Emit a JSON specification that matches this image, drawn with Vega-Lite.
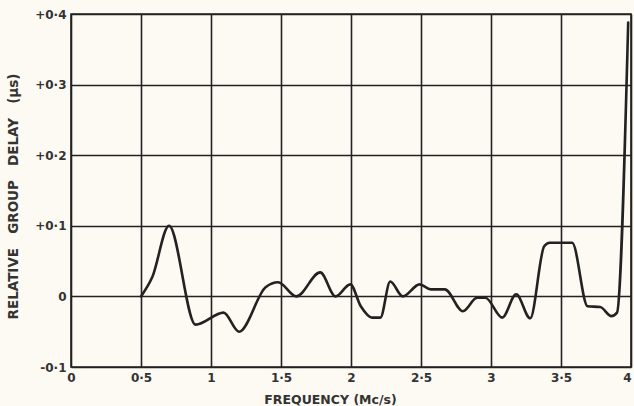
{
  "$schema": "https://vega.github.io/schema/vega-lite/v6.json",
  "width": 560,
  "height": 353,
  "autosize": {"type": "none"},
  "padding": {"left": 71, "top": 14, "right": 3, "bottom": 39},
  "background": "#fcfaf2",
  "config": {
    "view": {"stroke": "#222", "strokeWidth": 1.6},
    "font": "DejaVu Sans"
  },
  "data": {
    "values": [
      {"f": 0.5, "d": 0.0},
      {"f": 0.58, "d": 0.027},
      {"f": 0.70, "d": 0.100},
      {"f": 0.89, "d": -0.040},
      {"f": 1.09, "d": -0.023},
      {"f": 1.20, "d": -0.050},
      {"f": 1.39, "d": 0.013},
      {"f": 1.48, "d": 0.020},
      {"f": 1.61, "d": 0.0},
      {"f": 1.78, "d": 0.034},
      {"f": 1.89, "d": 0.0},
      {"f": 1.995, "d": 0.017},
      {"f": 2.07, "d": -0.014},
      {"f": 2.15, "d": -0.030},
      {"f": 2.21, "d": -0.030},
      {"f": 2.28, "d": 0.021},
      {"f": 2.37, "d": 0.0},
      {"f": 2.49, "d": 0.017},
      {"f": 2.57, "d": 0.010},
      {"f": 2.67, "d": 0.010},
      {"f": 2.80, "d": -0.021},
      {"f": 2.90, "d": -0.002},
      {"f": 2.96, "d": -0.002},
      {"f": 3.08, "d": -0.030},
      {"f": 3.18, "d": 0.003},
      {"f": 3.28, "d": -0.031},
      {"f": 3.38, "d": 0.071},
      {"f": 3.42, "d": 0.076},
      {"f": 3.58, "d": 0.076},
      {"f": 3.69, "d": -0.014},
      {"f": 3.78, "d": -0.015},
      {"f": 3.86, "d": -0.028},
      {"f": 3.90, "d": -0.023},
      {"f": 3.98, "d": 0.388}
    ]
  },
  "mark": {"type": "line", "color": "#222", "strokeWidth": 2.6, "strokeJoin": "round", "strokeCap": "round", "interpolate": "monotone", "clip": false},
  "encoding": {
    "x": {
      "field": "f",
      "type": "quantitative",
      "scale": {"domain": [0, 4], "nice": false, "zero": false},
      "axis": {
        "values": [0, 0.5, 1, 1.5, 2, 2.5, 3, 3.5, 4],
        "title": "FREQUENCY (Mc/s)",
        "titleFont": "DejaVu Sans",
        "titleFontSize": 12.5,
        "titleFontWeight": "bold",
        "titleColor": "#333",
        "titleX": 259,
        "titleY": 36,
        "titleAnchor": null,
        "titleAlign": "center",
        "titleBaseline": "alphabetic",
        "labelExpr": "datum.value == floor(datum.value) ? format(datum.value, 'd') : replace(format(datum.value, '.1f'), '.', '·')",
        "labelAlign": {"condition": {"test": "datum.value == 4", "value": "right"}, "value": "center"},
        "labelFontSize": 12,
        "labelFontWeight": "bold",
        "labelColor": "#333",
        "labelPadding": 5,
        "labelFlush": false,
        "ticks": false,
        "domain": false,
        "grid": true,
        "gridColor": "#222",
        "gridWidth": 1.6,
        "gridOpacity": 1
      }
    },
    "y": {
      "field": "d",
      "type": "quantitative",
      "scale": {"domain": [-0.1, 0.4], "nice": false, "zero": false},
      "axis": {
        "values": [-0.1, 0, 0.1, 0.2, 0.3, 0.4],
        "title": "RELATIVE\u00a0\u00a0\u00a0GROUP\u00a0\u00a0\u00a0DELAY\u00a0\u00a0\u00a0(µs)",
        "titleFont": "DejaVu Sans",
        "titleFontSize": 13.5,
        "titleFontWeight": "bold",
        "titleColor": "#333",
        "titleX": -58,
        "titleY": 182,
        "titleAngle": -90,
        "titleAlign": "center",
        "titleBaseline": "middle",
        "labelExpr": "datum.value == 0 ? '0' : (datum.value > 0 ? '+' : '-') + replace(format(abs(datum.value), '.1f'), '.', '·')",
        "labelFontSize": 12,
        "labelFontWeight": "bold",
        "labelColor": "#333",
        "labelPadding": 5,
        "labelFlush": false,
        "ticks": false,
        "domain": false,
        "grid": true,
        "gridColor": "#222",
        "gridWidth": 1.6,
        "gridOpacity": 1
      }
    }
  }
}
